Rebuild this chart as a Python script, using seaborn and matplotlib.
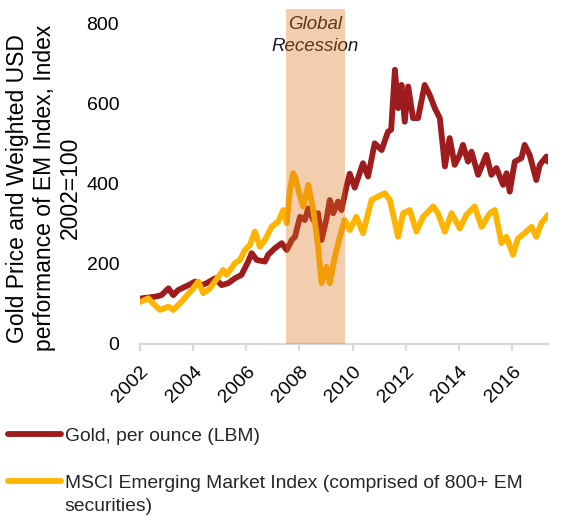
import numpy as np
import pandas as pd
import matplotlib
matplotlib.use("Agg")
import matplotlib.pyplot as plt
import seaborn as sns
from matplotlib.lines import Line2D

# ---------------- data ----------------
gold_years = [2002.0, 2002.06, 2002.56, 2002.81, 2003.07, 2003.25, 2003.44, 2003.82, 2004.07, 2004.32,
              2004.51, 2004.82, 2005.07, 2005.32, 2005.57, 2005.82, 2006.07, 2006.2, 2006.39, 2006.7,
              2006.82, 2007.07, 2007.33, 2007.52, 2007.71, 2007.83, 2008.02, 2008.2, 2008.33, 2008.52,
              2008.7, 2008.83, 2009.02, 2009.14, 2009.27, 2009.45, 2009.58, 2009.77, 2009.89, 2010.08,
              2010.39, 2010.58, 2010.83, 2011.09, 2011.33, 2011.45, 2011.59, 2011.71, 2011.84, 2011.96,
              2012.09, 2012.27, 2012.46, 2012.71, 2012.9, 2013.09, 2013.28, 2013.4, 2013.47, 2013.65,
              2013.84, 2014.03, 2014.15, 2014.34, 2014.47, 2014.72, 2015.03, 2015.22, 2015.41, 2015.66,
              2015.79, 2015.91, 2016.1, 2016.35, 2016.47, 2016.66, 2016.91, 2017.04, 2017.29, 2017.35]
gold_values = [108, 113, 117, 121, 138, 121, 134, 146, 155, 146,
               151, 163, 146, 151, 163, 172, 205, 226, 209, 205,
               222, 238, 251, 234, 259, 267, 317, 309, 338, 309,
               326, 259, 313, 359, 326, 355, 334, 393, 425, 390,
               451, 418, 501, 484, 530, 535, 685, 589, 647, 555,
               643, 564, 564, 647, 622, 589, 564, 489, 443, 514,
               447, 472, 497, 455, 480, 422, 472, 422, 439, 397,
               426, 380, 455, 464, 497, 472, 409, 447, 468, 455]

em_years = [2002.0, 2002.06, 2002.31, 2002.56, 2002.75, 2003.07, 2003.25, 2003.57, 2004.0, 2004.19,
            2004.38, 2004.63, 2005.13, 2005.26, 2005.57, 2005.76, 2005.95, 2006.14, 2006.32, 2006.51,
            2006.7, 2006.95, 2007.2, 2007.39, 2007.52, 2007.64, 2007.76, 2007.83, 2008.02, 2008.14,
            2008.33, 2008.52, 2008.7, 2008.83, 2009.02, 2009.14, 2009.33, 2009.52, 2009.7, 2009.89,
            2010.14, 2010.39, 2010.71, 2010.96, 2011.21, 2011.4, 2011.71, 2011.9, 2012.15, 2012.4,
            2012.65, 2013.03, 2013.21, 2013.47, 2013.72, 2014.03, 2014.28, 2014.59, 2014.85, 2015.16,
            2015.35, 2015.6, 2015.79, 2016.03, 2016.22, 2016.47, 2016.73, 2016.91, 2017.1, 2017.35]
em_values = [104, 105, 113, 96, 84, 92, 84, 105, 138, 155,
             126, 138, 184, 172, 201, 209, 234, 247, 280, 242,
             259, 292, 305, 334, 301, 384, 426, 418, 368, 343,
             397, 334, 242, 151, 192, 151, 217, 267, 309, 284,
             317, 276, 359, 368, 376, 359, 267, 326, 334, 280,
             317, 343, 326, 280, 326, 288, 322, 343, 292, 326,
             334, 251, 267, 222, 263, 276, 292, 267, 301, 322]

series_names = ["Gold, per ounce (LBM)",
                "MSCI Emerging Market Index (comprised of 800+ EM\nsecurities)"]
x_ticks = [2002, 2004, 2006, 2008, 2010, 2012, 2014, 2016]
y_ticks = [0, 200, 400, 600, 800]
recession = (2007.49, 2009.71)
recession_label = "Global\nRecession"
y_label = "Gold Price and Weighted USD\nperformance of EM Index, Index\n2002=100"

# ---------------- style ----------------
sns.set_theme(style="white")
plt.rcParams["font.family"] = ["Liberation Sans", "DejaVu Sans"]

colors = {series_names[0]: "#9E1B1E", series_names[1]: "#FFB400"}

df = pd.concat([
    pd.DataFrame({"year": gold_years, "value": gold_values, "series": series_names[0]}),
    pd.DataFrame({"year": em_years, "value": em_values, "series": series_names[1]}),
], ignore_index=True)

fig = plt.figure(figsize=(5.78, 5.17), dpi=100)
ax = fig.add_axes([140 / 578, (517 - 343.5) / 517, 408 / 578, 334.5 / 517])

sns.lineplot(data=df, x="year", y="value", hue="series", palette=colors,
             linewidth=4.2, legend=False, ax=ax, estimator=None, sort=False, zorder=2)
for ln in ax.lines:
    ln.set_solid_joinstyle("round")
    ln.set_solid_capstyle("round")

ax.axvspan(recession[0], recession[1], color="#DA7318", alpha=0.35, lw=0, zorder=3)
ax.text(sum(recession) / 2, 771, recession_label, ha="center", va="center",
        fontsize=13.5, style="italic", color="#1A1A1A", zorder=2, linespacing=1.35)

ax.set_xlim(2002, 2017.35)
ax.set_ylim(0, 837)
ax.set_xticks(x_ticks)
ax.set_xticklabels([str(t) for t in x_ticks])
ax.set_yticks(y_ticks)
ax.set_xlabel("")
ax.set_ylabel(y_label, fontsize=16.5, color="#000000", linespacing=1.2)
ax.yaxis.label.set_va("center")
ax.yaxis.set_label_coords(-0.235, 0.464)

for s in ["top", "right", "left"]:
    ax.spines[s].set_visible(False)
ax.spines["bottom"].set_color("#D9D9D9")
ax.spines["bottom"].set_linewidth(1.6)
ax.tick_params(axis="x", which="both", bottom=True, length=5, width=1.6, color="#D9D9D9",
               labelsize=14, labelcolor="#000000", pad=9)
ax.tick_params(axis="y", length=0, labelsize=14, labelcolor="#000000", pad=15)
for lab in ax.get_xticklabels():
    lab.set_rotation(45)
    lab.set_ha("right")
    lab.set_va("top")
    lab.set_rotation_mode("anchor")
ax.grid(False)

# legend below
h_gold = Line2D([], [], color=colors[series_names[0]], lw=4.2, solid_capstyle="round")
h_em = Line2D([], [], color=colors[series_names[1]], lw=4.2, solid_capstyle="round")
h_blank = Line2D([], [], color="none")
lines2 = series_names[1].split("\n")
fig.legend([h_gold, h_blank, h_em, h_blank],
           [series_names[0], " ", lines2[0], lines2[1]],
           loc="upper left", bbox_to_anchor=(8 / 578, 1 - 427 / 517),
           frameon=False, fontsize=13.9, handlelength=2.75, handletextpad=0.18,
           labelspacing=0.31, borderpad=0, borderaxespad=0)

fig.savefig("out.png", dpi=100)
